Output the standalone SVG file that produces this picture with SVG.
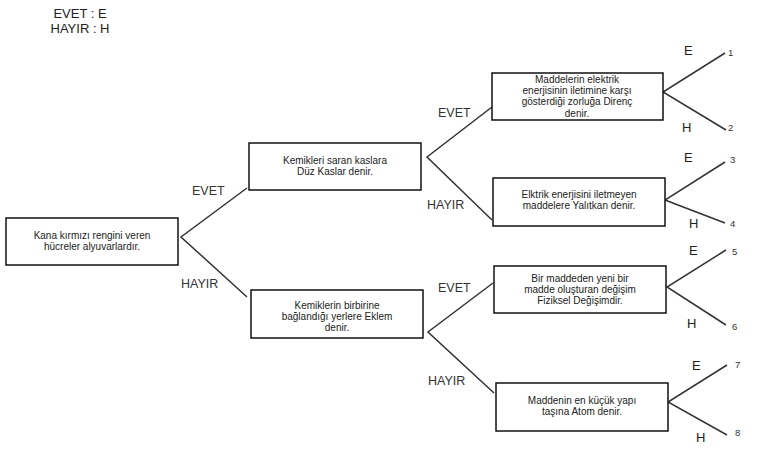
<svg xmlns="http://www.w3.org/2000/svg" width="765" height="457" viewBox="0 0 765 457">
<style>
.box{fill:#fff;stroke:#111;stroke-width:1.5}
.t{font-family:"Liberation Sans",Arial,sans-serif;font-size:10px;fill:#222;text-anchor:middle}
.lbl{font-family:"Liberation Sans",Arial,sans-serif;font-size:12.5px;fill:#333}
.eh{font-family:"Liberation Sans",Arial,sans-serif;font-size:13px;fill:#222}
.num{font-family:"Liberation Sans",Arial,sans-serif;font-size:9.5px;fill:#333}
.leg{font-family:"Liberation Sans",Arial,sans-serif;font-size:13px;fill:#222;text-anchor:middle}
.ln{stroke:#333;stroke-width:1.5;fill:none}
</style>
<rect width="765" height="457" fill="#fff"/>
<g id="legend">
<text class="leg" x="80" y="18">EVET : E</text>
<text class="leg" x="80" y="33">HAYIR : H</text>
</g>
<g id="connectors">
<polyline class="ln" points="247,188 181,237 247,297"/>
<polyline class="ln" points="492,107 427,157 492,220"/>
<polyline class="ln" points="493,283 428,332 494,393"/>
<polyline class="ln" points="725,53 663,92 726,130"/>
<polyline class="ln" points="725,162 665,200 725,223"/>
<polyline class="ln" points="726,250 667,287 726,325"/>
<polyline class="ln" points="727,365 668,402 727,435"/>
<text class="lbl" x="192" y="195">EVET</text>
<text class="lbl" x="181" y="288">HAYIR</text>
<text class="lbl" x="438" y="117">EVET</text>
<text class="lbl" x="427" y="209">HAYIR</text>
<text class="lbl" x="438" y="292">EVET</text>
<text class="lbl" x="428" y="385">HAYIR</text>
<text class="eh" x="684" y="55">E</text>
<text class="eh" x="682" y="132">H</text>
<text class="eh" x="684" y="162">E</text>
<text class="eh" x="689" y="228">H</text>
<text class="eh" x="689" y="255">E</text>
<text class="eh" x="687" y="328">H</text>
<text class="eh" x="692" y="370">E</text>
<text class="eh" x="696" y="442">H</text>
<text class="num" x="728" y="56">1</text>
<text class="num" x="728" y="131">2</text>
<text class="num" x="730" y="163">3</text>
<text class="num" x="730" y="227">4</text>
<text class="num" x="732" y="255">5</text>
<text class="num" x="732" y="330">6</text>
<text class="num" x="735" y="368">7</text>
<text class="num" x="735" y="436">8</text>
</g>
<g id="n1">
<rect class="box" x="6" y="218" width="172" height="47"/>
<text class="t" x="92" y="239">Kana kırmızı rengini veren</text>
<text class="t" x="92" y="250">hücreler alyuvarlardır.</text>
</g>
<g id="n2">
<rect class="box" x="249" y="143" width="172" height="47"/>
<text class="t" x="335" y="164">Kemikleri saran kaslara</text>
<text class="t" x="335" y="175">Düz Kaslar denir.</text>
</g>
<g id="n3">
<rect class="box" x="251" y="290" width="172" height="48"/>
<text class="t" x="337" y="309">Kemiklerin birbirine</text>
<text class="t" x="337" y="320">bağlandığı yerlere Eklem</text>
<text class="t" x="337" y="331">denir.</text>
</g>
<g id="n4">
<rect class="box" x="492" y="73" width="171" height="47"/>
<text class="t" x="577" y="83">Maddelerin elektrik</text>
<text class="t" x="577" y="94">enerjisinin iletimine karşı</text>
<text class="t" x="577" y="105">gösterdiği zorluğa Direnç</text>
<text class="t" x="577" y="117">denir.</text>
</g>
<g id="n5">
<rect class="box" x="493" y="178" width="172" height="48"/>
<text class="t" x="579" y="198">Elktrik enerjisini iletmeyen</text>
<text class="t" x="579" y="209">maddelere Yalıtkan denir.</text>
</g>
<g id="n6">
<rect class="box" x="494" y="266" width="172" height="47"/>
<text class="t" x="580" y="282">Bir maddeden yeni bir</text>
<text class="t" x="580" y="293">madde oluşturan değişim</text>
<text class="t" x="580" y="304">Fiziksel Değişimdir.</text>
</g>
<g id="n7">
<rect class="box" x="496" y="383" width="172" height="48"/>
<text class="t" x="582" y="404">Maddenin en küçük yapı</text>
<text class="t" x="582" y="415">taşına Atom denir.</text>
</g>
</svg>
